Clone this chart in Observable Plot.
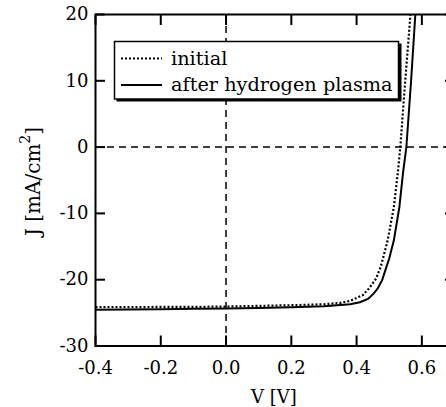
<!DOCTYPE html>
<html>
<head>
<meta charset="utf-8">
<script src="https://cdn.jsdelivr.net/npm/d3@7"></script>
<script src="https://cdn.jsdelivr.net/npm/@observablehq/plot@0.6"></script>
<style>
html, body { margin: 0; padding: 0; overflow: hidden; background: #fff; }
svg text { font-family: "DejaVu Serif", "Liberation Serif", serif; }
</style>
</head>
<body>
<div id="chart"></div>
<script>
// Data
const vInitial = [-0.4, -0.3, -0.2, -0.1, 0.0, 0.1, 0.2, 0.3, 0.35, 0.38, 0.42, 0.44, 0.46, 0.475, 0.495, 0.514, 0.526, 0.534, 0.549, 0.565, 0.568];
const jInitial = [-24.15, -24.15, -24.1, -24.1, -24.05, -23.95, -23.85, -23.7, -23.5, -23.2, -22.3, -21.2, -19.8, -17.9, -14.1, -9.1, -4.0, 0.0, 10.0, 20.0, 22.0];
const vAfter = [-0.4, -0.3, -0.2, -0.1, 0.0, 0.1, 0.2, 0.3, 0.33, 0.38, 0.41, 0.435, 0.452, 0.465, 0.478, 0.49, 0.5, 0.514, 0.531, 0.542, 0.5525, 0.567, 0.58, 0.583];
const jAfter = [-24.55, -24.5, -24.45, -24.4, -24.35, -24.25, -24.15, -24.0, -23.9, -23.7, -23.4, -22.9, -22.1, -21.3, -20.1, -18.3, -16.8, -14.1, -9.1, -4.0, 0.0, 10.0, 20.0, 22.0];
const xTicks = [-0.4, -0.2, 0.0, 0.2, 0.4, 0.6];
const yTicks = [-30, -20, -10, 0, 10, 20];
const seriesNames = ["initial", "after hydrogen plasma"];

const initial = vInitial.map((v, i) => ({V: v, J: jInitial[i]}));
const after = vAfter.map((v, i) => ({V: v, J: jAfter[i]}));

const font = "'DejaVu Serif', 'Liberation Serif', serif";
const dots = "2,2";
const svg = Plot.plot({
  width: 460,
  height: 407,
  marginLeft: 95,
  marginRight: 6,
  marginTop: 14,
  marginBottom: 61.5,
  style: {fontFamily: font, fontSize: "18px", color: "#000", background: "#fff", maxWidth: "none"},
  x: {domain: [-0.4, 0.7]},
  y: {domain: [-30, 20]},
  marks: [
    Plot.ruleY([0], {stroke: "#000", strokeWidth: 1.5, strokeDasharray: "7,5"}),
    Plot.ruleX([0], {stroke: "#000", strokeWidth: 1.5, strokeDasharray: "7,5"}),
    Plot.line(initial, {x: "V", y: "J", stroke: "#000", strokeWidth: 2.2, strokeDasharray: dots, strokeLinecap: "butt", clip: true}),
    Plot.line(after, {x: "V", y: "J", stroke: "#000", strokeWidth: 2, clip: true}),
    Plot.frame({stroke: "#000", strokeWidth: 2}),
    Plot.axisX({anchor: "bottom", ticks: xTicks, tickSize: 10, inset: 10, strokeWidth: 2, tickFormat: () => "", label: null}),
    Plot.axisX({anchor: "top", ticks: xTicks, tickSize: 10, inset: 10, strokeWidth: 2, tickFormat: () => "", label: null}),
    Plot.axisY({anchor: "left", ticks: yTicks, tickSize: 10, inset: 10, strokeWidth: 2, tickFormat: () => "", label: null}),
    Plot.axisY({anchor: "right", ticks: yTicks, tickSize: 10, inset: 10, strokeWidth: 2, tickFormat: () => "", label: null}),
    Plot.axisX({anchor: "bottom", ticks: xTicks, tickSize: 0, tickPadding: 15, tickFormat: d => d.toFixed(1), label: null, fill: "#000"}),
    Plot.axisY({anchor: "left", ticks: yTicks, tickSize: 0, tickPadding: 7, tickFormat: d => String(d), label: null, fill: "#000"})
  ]
});

const s = d3.select(svg);
// Axis titles
const yl = s.append("text")
  .attr("transform", "translate(39.5,181.5) rotate(-90)")
  .attr("text-anchor", "middle")
  .attr("font-size", 20)
  .attr("fill", "#000");
yl.append("tspan").text("J [mA/cm");
yl.append("tspan").attr("dy", -10).attr("font-size", 14).text("2");
yl.append("tspan").attr("dy", 10).text("]");

s.append("text")
  .attr("x", 274)
  .attr("y", 403)
  .attr("text-anchor", "middle")
  .attr("font-size", 18)
  .attr("fill", "#000")
  .text("V [V]");

// Legend
const lg = s.append("g").attr("text-anchor", "start");
lg.append("rect").attr("x", 116.5).attr("y", 43.5).attr("width", 285).attr("height", 58).attr("fill", "#000");
lg.append("rect").attr("x", 114.5).attr("y", 41.5).attr("width", 284).attr("height", 57.5)
  .attr("fill", "#fff").attr("stroke", "#000").attr("stroke-width", 1.5);
lg.append("line").attr("x1", 121).attr("x2", 162).attr("y1", 58.5).attr("y2", 58.5)
  .attr("stroke", "#000").attr("stroke-width", 2.2).attr("stroke-dasharray", dots);
lg.append("line").attr("x1", 121).attr("x2", 162).attr("y1", 85).attr("y2", 85)
  .attr("stroke", "#000").attr("stroke-width", 2);
lg.append("text").attr("x", 171).attr("y", 64.5).attr("font-size", 19.3).attr("fill", "#000").text(seriesNames[0]);
lg.append("text").attr("x", 171).attr("y", 91).attr("font-size", 19.3).attr("fill", "#000").text(seriesNames[1]);

document.getElementById("chart").appendChild(svg);
</script>
</body>
</html>
